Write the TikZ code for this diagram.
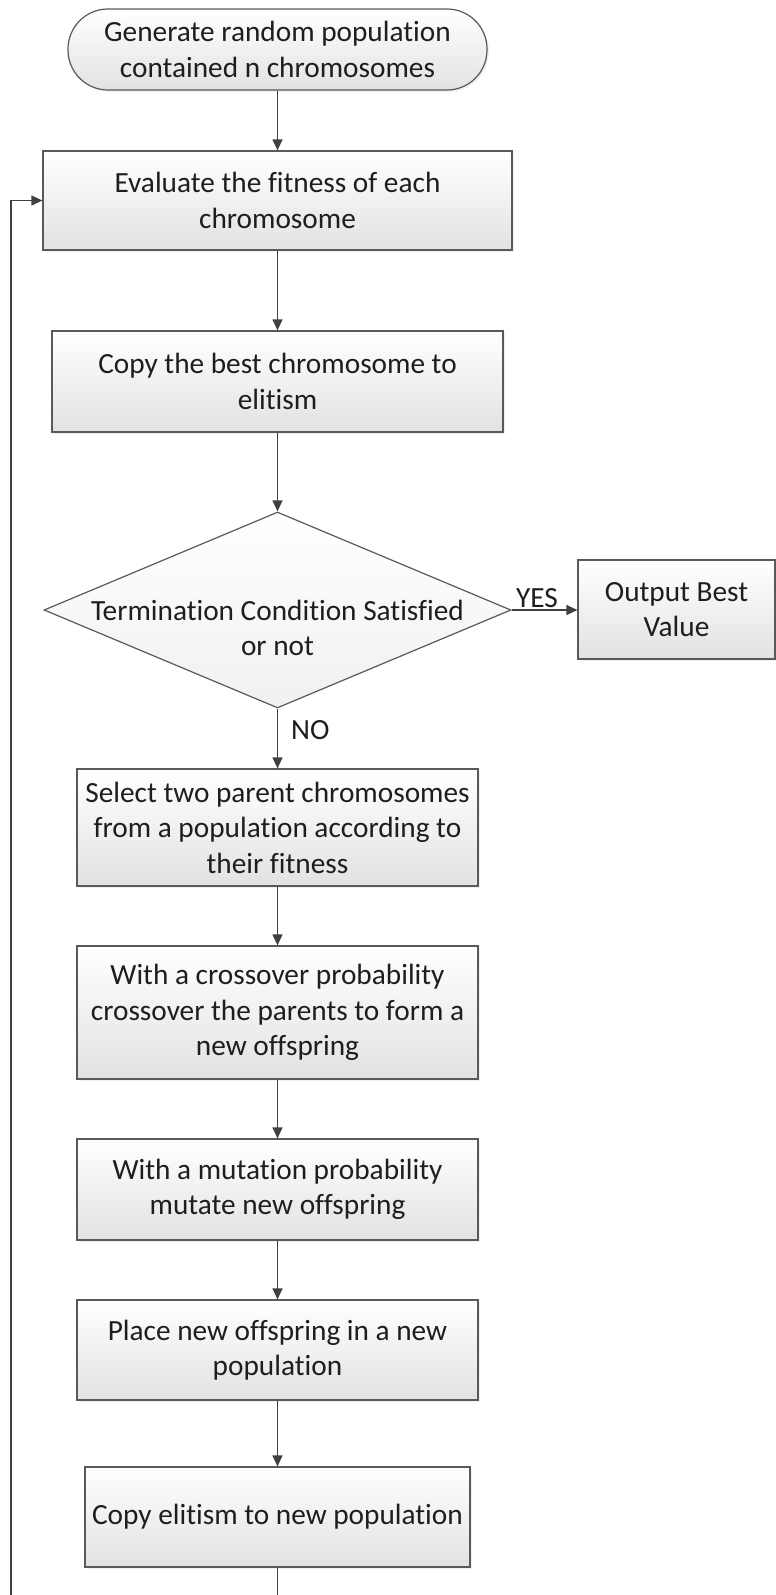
\documentclass[tikz,border=0pt]{standalone}
\usepackage{fontspec}
\setmainfont{Carlito}[RawFeature={-liga;-clig;-calt}]
\usetikzlibrary{shapes.geometric,arrows.meta,shadows}
\definecolor{linec}{HTML}{595959}
\definecolor{arrc}{HTML}{404040}
\definecolor{txt}{HTML}{1E1E1E}
\definecolor{boxbot}{HTML}{E2E2E2}
\definecolor{diabot}{HTML}{F0F0F0}
\begin{document}
\begin{tikzpicture}[x=1pt,y=-1pt,
  txtfont/.style={font=\fontsize{29.3}{35.5}\selectfont, text=txt},
  box/.style={draw=linec, line width=1.2pt, top color=white, bottom color=boxbot,
    inner sep=0pt, align=center, txtfont,
    drop shadow={shadow xshift=2pt, shadow yshift=-2pt, opacity=0.12}},
  diam/.style={shape=diamond, draw=linec, line width=1.2pt, top color=white, bottom color=diabot,
    inner sep=0pt},
  lbl/.style={txtfont, inner sep=0pt, align=center},
  arr/.style={draw=arrc, line width=1.2pt, -{Triangle[length=11pt,width=10pt]}},
  ln/.style={draw=arrc, line width=1.2pt}]
\useasboundingbox (0,0) rectangle (776,1595);

\node[box, minimum width=419pt, minimum height=81pt, rounded corners=40pt] (term) at (277.5,49.5)
  {Generate random population\\contained n chromosomes};
\node[box, minimum width=469pt, minimum height=99pt] (eval) at (277.5,200.5)
  {Evaluate the fitness of each\\chromosome};
\node[box, minimum width=451pt, minimum height=101pt] (best) at (277.5,381.5)
  {Copy the best chromosome to\\elitism};
\node[diam, minimum width=467pt, minimum height=196pt] (cond) at (277.5,610) {};
\node[lbl] (condt) at (277.5,628) {Termination Condition Satisfied\\or not};
\node[box, minimum width=197pt, minimum height=99pt] (out) at (676.5,609.5)
  {Output Best\\Value};
\node[box, minimum width=401pt, minimum height=117pt] (sel) at (277.5,827.5)
  {Select two parent chromosomes\\from a population according to\\their fitness};
\node[box, minimum width=401pt, minimum height=133pt] (cross) at (277.5,1012.5)
  {With a crossover probability\\crossover the parents to form a\\new offspring};
\node[box, minimum width=401pt, minimum height=101pt] (mut) at (277.5,1189.5)
  {With a mutation probability\\mutate new offspring};
\node[box, minimum width=401pt, minimum height=100pt] (place) at (277.5,1350)
  {Place new offspring in a new\\population};
\node[box, minimum width=385pt, minimum height=100pt] (elit) at (277.5,1517)
  {Copy elitism to new population};

\node[lbl] (yes) at (537,598) {YES};
\node[lbl, anchor=west] (no) at (291,730) {NO};

\coordinate (lb) at (11,1595);
\coordinate (eb) at (277.5,1595);

\draw[arr] (term) -- (eval);
\draw[arr] (eval) -- (best);
\draw[arr] (best) -- (cond.north);
\draw[arr] (cond.east) -- (cond.east -| out.west);
\draw[arr] (cond.south) -- (sel);
\draw[arr] (sel) -- (cross);
\draw[arr] (cross) -- (mut);
\draw[arr] (mut) -- (place);
\draw[arr] (place) -- (elit);
\draw[ln] (elit.south) -- (eb);
\draw[arr] (lb) |- (eval.west);
\end{tikzpicture}
\end{document}
